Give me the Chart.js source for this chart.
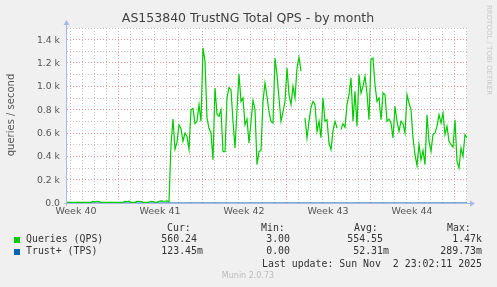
<!DOCTYPE html>
<html>
<head>
<meta charset="utf-8">
<script src="https://cdn.jsdelivr.net/npm/chart.js@4/dist/chart.umd.min.js"></script>
<style>
  html, body { margin: 0; padding: 0; background: #f0f0f0; }
  #wrap { width: 497px; height: 287px; }
</style>
</head>
<body>
<div id="wrap"><canvas id="qps" width="497" height="287"></canvas></div>
<script>
// time axis is in hours, 0 = start of week 41
const startHour = -102;
const stepHours = 4;
const endHour = 698;

// Queries (QPS), one value every 4 hours
const qpsValues = [
  5, 6, 6, 5, 6, 6, 6, 6, 6, 6, 6, 6, 6,
  14, 10, 15, 12,
  6, 6, 6, 6, 6, 6, 6, 6, 6, 6, 6, 6,
  14, 12, 16,
  6, 6, 6,
  14, 15, 13,
  7, 6, 6, 7,
  15, 13,
  6, 6, 15, 18, 16, 15, 18,
  10, 500, 720, 460, 520, 670, 640, 530, 600, 570,
  460, 800, 810, 680, 700, 843, 700, 1330, 1214, 729,
  640, 600, 371, 986, 760, 743, 800, 440, 440, 900,
  990, 971, 700, 471, 800, 1106, 870, 900, 671, 720,
  514, 700, 877, 800, 329, 440, 450, 871, 1029, 914,
  780, 700, 686, 1243, 1100, 900, 700, 780, 871, 1157,
  929, 843, 1000, 900, 1157, 1250, 1129, null, 729, 557,
  700, 820, 871, 843, 614, 700, 560, 900, 700, 714,
  514, 457, 620, 700, 643, null, 629, 680, 649, 843,
  929, 1071, 700, 957, 657, 1100, 943, 1000, 1086, 940,
  714, 1229, 1243, 1014, 871, 900, 714, 943, 929, 700,
  720, 686, 557, 829, 700, 614, 700, 680, 600, 929,
  857, 800, 557, 414, 320, 500, 371, 450, 329, 757,
  529, 443, 586, 600, 657, 757, 686, 771, 586, 657,
  529, 500, 480, 714, 357, 300, 471, 400, 586, 557
];

// Trust+ (TPS), one value every 40 hours
const tpsStep = 40;
const tpsValues = [0, 0, 0, 0.02, 0.05, 0.08, 0.04, 0.06, 0.05, 0.07,
  0.03, 0.06, 0.05, 0.04, 0.08, 0.06, 0.05, 0.07, 0.04, 0.09, 0.12];

const weekLabels = ['Week 40', 'Week 41', 'Week 42', 'Week 43', 'Week 44'];
const weekCenters = [-84, 84, 252, 420, 588];
const yTickValues = [0, 200, 400, 600, 800, 1000, 1200, 1400];
const yTickLabels = ['0.0', '0.2 k', '0.4 k', '0.6 k', '0.8 k', '1.0 k', '1.2 k', '1.4 k'];

const legendHeaders = ['Cur:', 'Min:', 'Avg:', 'Max:'];
const qpsStats = ['560.24', '3.00', '554.55', '1.47k'];
const tpsStats = ['123.45m', '0.00', '52.31m', '289.73m'];
const lastUpdate = 'Last update: Sun Nov  2 23:02:11 2025';

const qpsPoints = qpsValues.map((v, i) => ({ x: startHour + i * stepHours, y: v }));
const tpsPoints = tpsValues.map((v, i) => ({ x: endHour - (tpsValues.length - 1 - i) * tpsStep, y: v }));

const axisColor = '#a8b8e8';
const minorGrid = 'rgba(190,190,190,0.9)';
const majorGrid = 'rgba(240,120,120,0.75)';

const extras = {
  id: 'extras',
  beforeDraw(chart) {
    const { ctx, chartArea: a } = chart;
    ctx.save();
    ctx.fillStyle = '#f0f0f0';
    ctx.fillRect(0, 0, chart.width, chart.height);
    ctx.fillStyle = '#ffffff';
    ctx.fillRect(a.left, a.top, a.right - a.left, a.bottom - a.top);
    ctx.restore();
  },
  afterDatasetsDraw(chart) {
    const { ctx, chartArea: a } = chart;
    const y0 = Math.round(chart.scales.y.getPixelForValue(0)) + 0.5;
    const x0 = Math.round(a.left) - 0.5;
    ctx.save();
    ctx.strokeStyle = axisColor;
    ctx.fillStyle = axisColor;
    ctx.lineWidth = 1;
    ctx.beginPath();
    ctx.moveTo(x0 - 2, y0);
    ctx.lineTo(a.right + 4, y0);
    ctx.moveTo(x0, y0 + 2);
    ctx.lineTo(x0, a.top - 4);
    ctx.stroke();
    // arrows
    ctx.beginPath();
    ctx.moveTo(a.right + 8, y0);
    ctx.lineTo(a.right + 3, y0 - 3);
    ctx.lineTo(a.right + 3, y0 + 3);
    ctx.closePath();
    ctx.fill();
    ctx.beginPath();
    ctx.moveTo(x0, a.top - 8);
    ctx.lineTo(x0 - 3, a.top - 3);
    ctx.lineTo(x0 + 3, a.top - 3);
    ctx.closePath();
    ctx.fill();
    ctx.restore();
  },
  afterDraw(chart) {
    const { ctx, chartArea: a } = chart;
    const xs = chart.scales.x, ys = chart.scales.y;
    ctx.save();
    // title
    ctx.fillStyle = '#404040';
    ctx.font = "12.5px 'DejaVu Sans'";
    ctx.textAlign = 'center';
    ctx.textBaseline = 'middle';
    ctx.fillText('AS153840 TrustNG Total QPS - by month', 248, 19);

    // y axis title
    ctx.fillStyle = '#555555';
    ctx.font = "10px 'DejaVu Sans'";
    ctx.save();
    ctx.translate(11, 115);
    ctx.rotate(-Math.PI / 2);
    ctx.fillText('queries / second', 0, 0);
    ctx.restore();

    // y tick labels
    ctx.font = "9.3px 'DejaVu Sans'";
    ctx.textAlign = 'right';
    yTickValues.forEach((v, i) => {
      ctx.fillText(yTickLabels[i], a.left - 7, ys.getPixelForValue(v) + 0.5);
    });

    // x labels
    ctx.textAlign = 'center';
    ctx.font = "9.5px 'DejaVu Sans'";
    weekLabels.forEach((t, i) => {
      ctx.fillText(t, xs.getPixelForValue(weekCenters[i]), 212);
    });

    // side credit
    ctx.save();
    ctx.fillStyle = '#c8c8c8';
    ctx.font = "7px 'DejaVu Sans'";
    ctx.translate(489, 5);
    ctx.rotate(Math.PI / 2);
    ctx.textAlign = 'left';
    ctx.fillText('RRDTOOL / TOBI OETIKER', 0, 0);
    ctx.restore();

    // legend
    ctx.fillStyle = '#333333';
    ctx.font = "9.9px 'DejaVu Sans Mono'";
    ctx.textAlign = 'left';
    const headX = [167, 261, 354, 447];
    const numEnd = [197, 290, 383, 476];
    legendHeaders.forEach((h, i) => ctx.fillText(h, headX[i], 228));
    const rows = [
      { name: 'Queries (QPS)', color: '#00cc00', stats: qpsStats, y: 239.5 },
      { name: 'Trust+ (TPS)', color: '#0066b3', stats: tpsStats, y: 251.5 }
    ];
    rows.forEach(r => {
      ctx.fillStyle = r.color;
      ctx.fillRect(14, Math.round(r.y) - 3, 6, 6);
      ctx.fillStyle = '#333333';
      ctx.textAlign = 'left';
      ctx.fillText(r.name, 26, r.y);
      r.stats.forEach((s, i) => {
        const m = s.match(/^([\d.]+)([a-zA-Z]?)$/);
        ctx.textAlign = 'right';
        ctx.fillText(m[1], numEnd[i], r.y);
        if (m[2]) {
          ctx.textAlign = 'left';
          ctx.fillText(m[2], numEnd[i], r.y);
        }
      });
    });
    ctx.textAlign = 'right';
    ctx.fillText(lastUpdate, 482, 264);

    ctx.fillStyle = '#bbbbbb';
    ctx.font = "8px 'DejaVu Sans'";
    ctx.textAlign = 'center';
    ctx.fillText('Munin 2.0.73', 248, 276);
    ctx.restore();
  }
};

document.addEventListener('DOMContentLoaded', function () {
  const ctx = document.getElementById('qps');
  new Chart(ctx, {
    type: 'line',
    data: {
      datasets: [
        {
          label: 'Queries (QPS)',
          data: qpsPoints,
          borderColor: '#00cc00',
          borderWidth: 1.2,
          pointRadius: 0,
          tension: 0,
          spanGaps: false
        },
        {
          label: 'Trust+ (TPS)',
          data: tpsPoints,
          borderColor: '#0066b3',
          borderWidth: 1,
          pointRadius: 0
        }
      ]
    },
    options: {
      responsive: false,
      animation: false,
      events: [],
      layout: { padding: { left: 67, top: 28, right: 30, bottom: 84 } },
      plugins: { legend: { display: false }, tooltip: { enabled: false } },
      scales: {
        x: {
          type: 'linear',
          min: startHour,
          max: endHour,
          afterBuildTicks: (scale) => {
            const t = [];
            for (let h = -96; h < endHour; h += 24) t.push({ value: h });
            scale.ticks = t;
          },
          ticks: { display: false },
          border: { display: false, dash: [1, 2] },
          grid: {
            drawTicks: false,
            lineWidth: 1,
            color: (c) => (c.tick && c.tick.value % 168 === 0 ? majorGrid : minorGrid)
          }
        },
        y: {
          min: 0,
          max: 1500,
          ticks: { display: false, stepSize: 100 },
          border: { display: false, dash: [1, 2] },
          grid: {
            drawTicks: false,
            lineWidth: 1,
            color: (c) => (c.tick && c.tick.value % 200 === 0 && c.tick.value > 0 ? majorGrid : minorGrid)
          }
        }
      }
    },
    plugins: [extras]
  });
});
</script>
</body>
</html>
